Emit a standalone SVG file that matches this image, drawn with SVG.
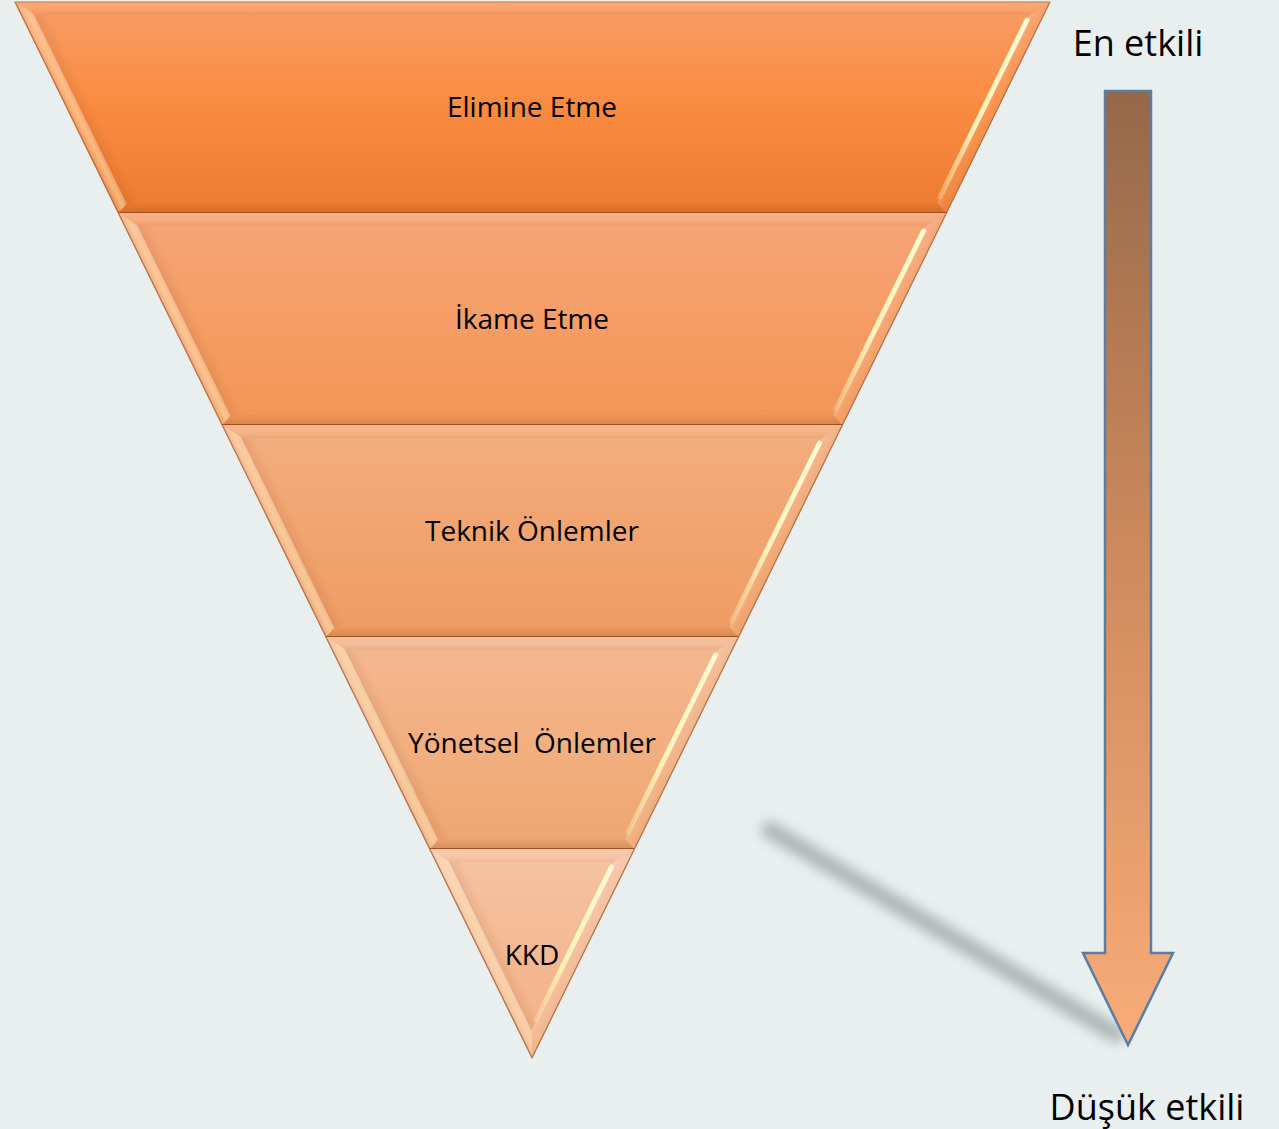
<svg xmlns="http://www.w3.org/2000/svg" width="1279" height="1129" viewBox="0 0 1279 1129">
<defs>
<style>
.lbl{font-family:"Open Sans","Liberation Sans",sans-serif;font-size:28px;fill:#000;text-anchor:middle}
.big{font-family:"Open Sans","Liberation Sans",sans-serif;font-size:36px;fill:#000;text-anchor:middle}
.lstrip{fill:url(#gl)}
.rstrip{fill:url(#gr)}
.tstrip{fill:url(#gt)}
.bstrip{fill:url(#gb)}
.ishadow{fill:url(#gis)}
.hl{stroke:url(#gh);stroke-width:5;fill:none;stroke-linecap:round;filter:url(#soft)}
.botline{stroke:#9A4A18;stroke-width:2;opacity:0.9}
.rim{fill:none;stroke:#B06838;stroke-width:1.2;stroke-linejoin:round;opacity:0.85}
</style>
<linearGradient id="g1" x1="0" y1="0" x2="0" y2="1"><stop offset="0" stop-color="#F99D66"/><stop offset="0.5" stop-color="#F98B40"/><stop offset="1" stop-color="#EC7B30"/></linearGradient>
<linearGradient id="g2" x1="0" y1="0" x2="0" y2="1"><stop offset="0" stop-color="#F6A577"/><stop offset="0.5" stop-color="#F59D65"/><stop offset="1" stop-color="#F29656"/></linearGradient>
<linearGradient id="g3" x1="0" y1="0" x2="0" y2="1"><stop offset="0" stop-color="#F4AE80"/><stop offset="0.5" stop-color="#F2A46F"/><stop offset="1" stop-color="#EE9C62"/></linearGradient>
<linearGradient id="g4" x1="0" y1="0" x2="0" y2="1"><stop offset="0" stop-color="#F4B891"/><stop offset="0.5" stop-color="#F2AF80"/><stop offset="1" stop-color="#EEA670"/></linearGradient>
<linearGradient id="g5" x1="0" y1="0" x2="0" y2="1"><stop offset="0" stop-color="#F6C3A2"/><stop offset="0.5" stop-color="#F4B992"/><stop offset="1" stop-color="#F2B085"/></linearGradient>
<linearGradient id="gl" gradientUnits="userSpaceOnUse" x1="15" y1="2" x2="26.29" y2="-3.53">
<stop offset="0" stop-color="#8A4A20" stop-opacity="0.3"/><stop offset="0.12" stop-color="#FFF" stop-opacity="0.2"/><stop offset="0.55" stop-color="#FFE9B0" stop-opacity="0.55"/><stop offset="0.9" stop-color="#FFF" stop-opacity="0.25"/><stop offset="1" stop-color="#000" stop-opacity="0.05"/></linearGradient>
<linearGradient id="gis" gradientUnits="userSpaceOnUse" x1="26.29" y1="-3.53" x2="36.56" y2="-8.55">
<stop offset="0" stop-color="#7A3A10" stop-opacity="0.1"/><stop offset="1" stop-color="#7A3A10" stop-opacity="0"/></linearGradient>
<linearGradient id="gr" gradientUnits="userSpaceOnUse" x1="1050" y1="2" x2="1038.71" y2="-3.54">
<stop offset="0" stop-color="#7A3A10" stop-opacity="0.4"/><stop offset="0.12" stop-color="#FFF" stop-opacity="0.05"/><stop offset="0.7" stop-color="#FFF" stop-opacity="0.12"/><stop offset="1" stop-color="#FFF" stop-opacity="0.22"/></linearGradient>
<linearGradient id="gt" x1="0" y1="0" x2="0" y2="1"><stop offset="0" stop-color="#FFF" stop-opacity="0.14"/><stop offset="0.6" stop-color="#FFF" stop-opacity="0.06"/><stop offset="1" stop-color="#7A3A10" stop-opacity="0.07"/></linearGradient>
<linearGradient id="gb" x1="0" y1="0" x2="0" y2="1"><stop offset="0" stop-color="#7A3A10" stop-opacity="0.04"/><stop offset="1" stop-color="#7A3A10" stop-opacity="0.2"/></linearGradient>
<linearGradient id="gh" x1="0" y1="0" x2="0" y2="1"><stop offset="0" stop-color="#FFFAD0" stop-opacity="1"/><stop offset="0.6" stop-color="#FFF6BC" stop-opacity="0.95"/><stop offset="1" stop-color="#FFF0B0" stop-opacity="0.3"/></linearGradient>
<linearGradient id="ga" gradientUnits="userSpaceOnUse" x1="0" y1="91" x2="0" y2="1045"><stop offset="0" stop-color="#956849"/><stop offset="0.5" stop-color="#CF8B5E"/><stop offset="1" stop-color="#F9AC78"/></linearGradient>
<filter id="blur" x="-20%" y="-30%" width="140%" height="160%"><feGaussianBlur stdDeviation="6"/></filter>
<filter id="soft" x="-50%" y="-10%" width="200%" height="120%"><feGaussianBlur stdDeviation="0.7"/></filter>
</defs>
<rect width="1279" height="1129" fill="#E9EFEF"/>

<g id="band1">
<polygon points="15,2 1050,2 946.5,213 118.3,213" fill="url(#g1)"/>
<polygon class="tstrip" points="15,2 1050,2 1029.6,15 35.4,15"/>
<polygon class="lstrip" points="15,2 35.4,15 127.4,203 118.3,213"/>
<polygon class="ishadow" points="35.4,15 49.4,15 141.4,203 127.4,203"/>
<polygon class="rstrip" points="1050,2 946.5,213 937.4,203 1029.6,15"/>
<polygon class="bstrip" points="127.4,203 937.4,203 946.5,213 118.3,213"/>
<line class="hl" x1="1027" y1="20" x2="940" y2="197"/>
<line class="botline" x1="118.3" y1="213" x2="946.5" y2="213"/>
<text class="lbl" x="532" y="117">Elimine Etme</text>
</g>

<g id="band2">
<polygon points="118.3,213 946.5,213 842.5,425 222.1,425" fill="url(#g2)"/>
<polygon class="tstrip" points="118.3,213 946.5,213 926.1,226 138.7,226"/>
<polygon class="lstrip" points="118.3,213 138.7,226 231.2,415 222.1,425"/>
<polygon class="ishadow" points="138.7,226 152.7,226 245.2,415 231.2,415"/>
<polygon class="rstrip" points="946.5,213 842.5,425 833.4,415 926.1,226"/>
<polygon class="bstrip" points="231.2,415 833.4,415 842.5,425 222.1,425"/>
<line class="hl" x1="923.5" y1="231" x2="836" y2="409"/>
<line class="botline" x1="222.1" y1="425" x2="842.5" y2="425"/>
<text class="lbl" x="532" y="329">İkame Etme</text>
</g>

<g id="band3">
<polygon points="222.1,425 842.5,425 738.5,637 325.9,637" fill="url(#g3)"/>
<polygon class="tstrip" points="222.1,425 842.5,425 822.1,438 242.5,438"/>
<polygon class="lstrip" points="222.1,425 242.5,438 335,627 325.9,637"/>
<polygon class="ishadow" points="242.5,438 256.5,438 349,627 335,627"/>
<polygon class="rstrip" points="842.5,425 738.5,637 729.4,627 822.1,438"/>
<polygon class="bstrip" points="335,627 729.4,627 738.5,637 325.9,637"/>
<line class="hl" x1="819.5" y1="443" x2="732" y2="621"/>
<line class="botline" x1="325.9" y1="637" x2="738.5" y2="637"/>
<text class="lbl" x="532" y="541">Teknik Önlemler</text>
</g>

<g id="band4">
<polygon points="325.9,637 738.5,637 634.5,849 429.7,849" fill="url(#g4)"/>
<polygon class="tstrip" points="325.9,637 738.5,637 718.1,650 346.3,650"/>
<polygon class="lstrip" points="325.9,637 346.3,650 438.8,839 429.7,849"/>
<polygon class="ishadow" points="346.3,650 360.3,650 452.8,839 438.8,839"/>
<polygon class="rstrip" points="738.5,637 634.5,849 625.4,839 718.1,650"/>
<polygon class="bstrip" points="438.8,839 625.4,839 634.5,849 429.7,849"/>
<line class="hl" x1="715.5" y1="655" x2="628" y2="833"/>
<line class="botline" x1="429.7" y1="849" x2="634.5" y2="849"/>
<text class="lbl" x="532" y="753" xml:space="preserve">Yönetsel  Önlemler</text>
</g>

<g id="band5">
<polygon points="429.7,849 634.5,849 532,1058" fill="url(#g5)"/>
<polygon class="tstrip" points="429.7,849 634.5,849 614.1,862 450,862"/>
<polygon class="lstrip" points="429.7,849 450,862 532,1029.4 532,1058"/>
<polygon class="ishadow" points="450,862 464,862 539,1015 532,1029.4"/>
<polygon class="rstrip" points="634.5,849 532,1058 532,1029.4 614.1,862"/>
<line class="hl" x1="611.5" y1="867" x2="536" y2="1020"/>
<text class="lbl" x="532" y="965">KKD</text>
</g>

<polygon class="rim" points="15,2 1050,2 532,1058"/>

<g id="labels">
<text class="big" x="1138" y="56">En etkili</text>
<text class="big" x="1147" y="1120">Düşük etkili</text>
</g>

<g id="connectors">
<line x1="770" y1="830" x2="1116" y2="1034" stroke="#A5AFAF" stroke-width="18" stroke-linecap="round" filter="url(#blur)" opacity="0.85"/>
<polygon points="1105,91 1151,91 1151,953 1173,953 1128,1045 1083,953 1105,953" fill="url(#ga)" stroke="#5A7DA3" stroke-width="2.5" stroke-linejoin="miter"/>
</g>
</svg>
